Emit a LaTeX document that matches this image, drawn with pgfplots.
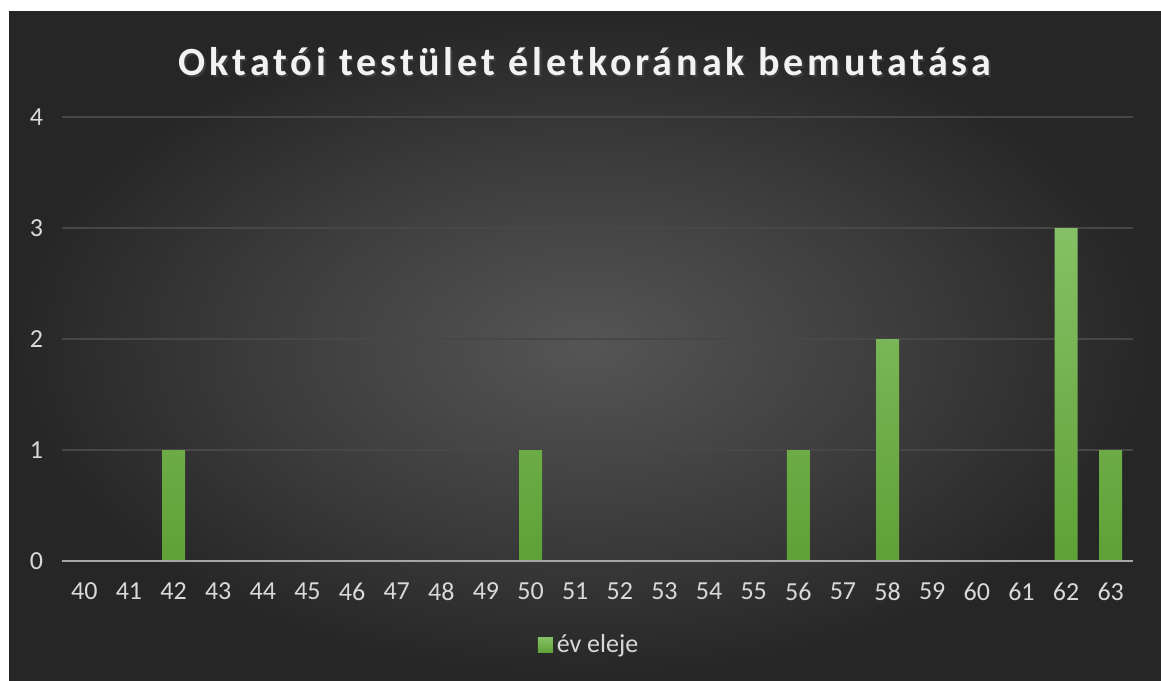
\documentclass[border=0pt]{standalone}
\usepackage{pgfplots}
\pgfplotsset{compat=1.18}
\usepackage{fontspec}
\setmainfont{Carlito}
\newfontfamily\titlefont[LetterSpace=10]{Carlito}
\definecolor{bgin}{HTML}{555555}
\definecolor{bgmid}{HTML}{3C3C3C}
\definecolor{bgout}{HTML}{262626}
\definecolor{gridc}{HTML}{474747}
\definecolor{axisc}{HTML}{A6A6A6}
\definecolor{labc}{HTML}{D9D9D9}
\definecolor{bartop}{HTML}{86C066}
\definecolor{barbot}{HTML}{5FA136}
\definecolor{barmid}{HTML}{6CB043}
\pgfdeclareradialshading{bgshade}{\pgfpoint{0bp}{0bp}}{%
  color(0bp)=(bgin); color(14bp)=(bgmid); color(25bp)=(bgout); color(50bp)=(bgout)}
\begin{document}
\begin{tikzpicture}
\fill[white] (0,0) rectangle (580.5pt,340pt);
\shade[shading=bgshade] (4.5pt,0) rectangle (580.5pt,334pt);
\node[text=black!70, opacity=0.6] at (293.3pt,308.2pt) {\fontsize{20}{24}\selectfont\titlefont\bfseries Oktatói testület életkorának bemutatása};
\node[text=white!95!black] at (292.5pt,309pt) {\fontsize{20}{24}\selectfont\titlefont\bfseries Oktatói testület életkorának bemutatása};
\begin{axis}[
  at={(31pt,59.5pt)}, anchor=south west,
  scale only axis, width=535.5pt, height=222pt,
  xmin=39.5, xmax=63.5, ymin=0, ymax=4,
  xtick={40,...,63}, ytick={0,...,4},
  axis line style={draw=none},
  major tick length=0pt,
  ymajorgrids, grid style={gridc, line width=0.6pt},
  tick label style={text=labc, font=\fontsize{13}{15}\selectfont},
  /pgf/number format/assume math mode=true,
  yticklabel style={xshift=-6pt},
  xticklabel style={yshift=-7.5pt},
  legend style={at={(0.493,-0.189)}, anchor=center, draw=none, fill=none,
    text=labc, font=\fontsize{13}{15}\selectfont,
    legend cell align=left, inner sep=0pt},
  legend image code/.code={\fill[barmid] (0pt,-3.75pt) rectangle (7.5pt,3.75pt);},
]
\addplot[ybar, bar width=11.5pt, draw=none, top color=bartop, bottom color=barbot]
  coordinates {(42,1) (50,1) (56,1) (58,2) (62,3) (63,1)};
\addlegendentry{év eleje}
\draw[axisc, line width=1pt] (axis cs:39.5,0) -- (axis cs:63.5,0);
\end{axis}
\end{tikzpicture}
\end{document}
